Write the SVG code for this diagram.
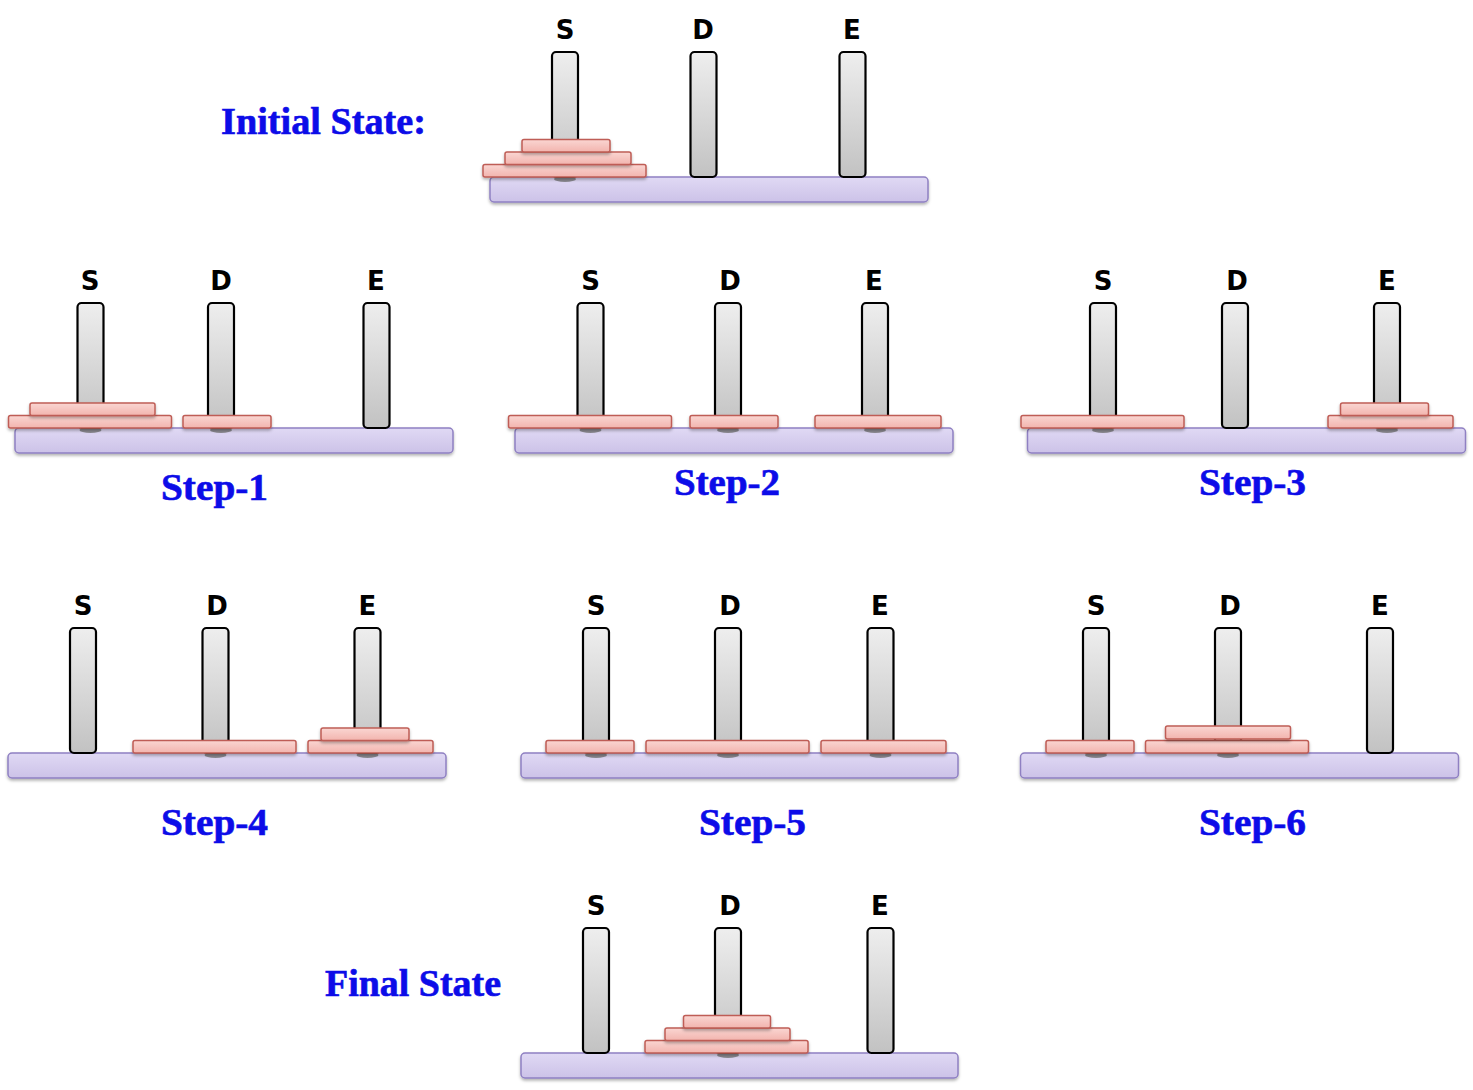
<svg xmlns="http://www.w3.org/2000/svg" width="1473" height="1090" viewBox="0 0 1473 1090">
<defs>
<linearGradient id="gPeg" x1="0" y1="0" x2="0" y2="1">
<stop offset="0" stop-color="#eeeeee"/>
<stop offset="1" stop-color="#c2c2c2"/>
</linearGradient>
<linearGradient id="gBase" x1="0" y1="0" x2="0" y2="1">
<stop offset="0" stop-color="#e0d9f4"/>
<stop offset="1" stop-color="#ccc2e8"/>
</linearGradient>
<linearGradient id="gDisk" x1="0" y1="0" x2="0" y2="1">
<stop offset="0" stop-color="#fad6d2"/>
<stop offset="1" stop-color="#f2b4ae"/>
</linearGradient>
<filter id="sh" x="-10%" y="-30%" width="120%" height="180%">
<feDropShadow dx="0" dy="2" stdDeviation="1.5" flood-color="#000" flood-opacity="0.3"/>
</filter>
</defs>
<style>
.base{fill:url(#gBase);stroke:#8f80c2;stroke-width:1.5;filter:url(#sh)}
.peg{fill:url(#gPeg);stroke:#000;stroke-width:2.2}
.disk{fill:url(#gDisk);stroke:#bf5d56;stroke-width:1.5;filter:url(#sh)}
.pin{fill:#6f6f6f;opacity:0.75}
.lbl{font-family:"DejaVu Sans","Liberation Sans",sans-serif;font-weight:bold;font-size:26px;fill:#000;text-anchor:middle}
.title{font-family:"Liberation Serif","DejaVu Serif",serif;font-weight:bold;font-size:37px;fill:#0c0ce8;stroke:#0c0ce8;stroke-width:0.6}
</style>
<rect width="1473" height="1090" fill="#ffffff"/>

<g id="initial-state">
<text class="title" x="221" y="134" textLength="205" lengthAdjust="spacingAndGlyphs">Initial State:</text>
<text class="lbl" x="565" y="39">S</text>
<text class="lbl" x="703" y="39">D</text>
<text class="lbl" x="852" y="39">E</text>
<rect class="base" x="490" y="177" width="438" height="25" rx="4"/>
<ellipse class="pin" cx="565" cy="179" rx="11" ry="3"/>
<rect class="peg" x="552" y="52" width="26" height="125" rx="4"/>
<rect class="peg" x="690.5" y="52" width="26" height="125" rx="4"/>
<rect class="peg" x="839.5" y="52" width="26" height="125" rx="4"/>
<rect class="disk" x="483" y="164.5" width="163" height="12.5" rx="2"/>
<rect class="disk" x="505" y="152" width="126" height="12.5" rx="2"/>
<rect class="disk" x="522" y="139.5" width="88" height="12.5" rx="2"/>
</g>

<g id="step-1">
<text class="lbl" x="90" y="290">S</text>
<text class="lbl" x="221" y="290">D</text>
<text class="lbl" x="376" y="290">E</text>
<rect class="base" x="15" y="428" width="438" height="25" rx="4"/>
<ellipse class="pin" cx="90.5" cy="430" rx="11" ry="3"/>
<ellipse class="pin" cx="221" cy="430" rx="11" ry="3"/>
<rect class="peg" x="77.5" y="303" width="26" height="125" rx="4"/>
<rect class="peg" x="208" y="303" width="26" height="125" rx="4"/>
<rect class="peg" x="363.5" y="303" width="26" height="125" rx="4"/>
<rect class="disk" x="8.5" y="415.5" width="163" height="12.5" rx="2"/>
<rect class="disk" x="30" y="403" width="125" height="12.5" rx="2"/>
<rect class="disk" x="183" y="415.5" width="88" height="12.5" rx="2"/>
<text class="title" x="161" y="500" textLength="107" lengthAdjust="spacingAndGlyphs">Step-1</text>
</g>

<g id="step-2">
<text class="lbl" x="590.5" y="290">S</text>
<text class="lbl" x="730" y="290">D</text>
<text class="lbl" x="874" y="290">E</text>
<rect class="base" x="515" y="428" width="438" height="25" rx="4"/>
<ellipse class="pin" cx="590.5" cy="430" rx="11" ry="3"/>
<ellipse class="pin" cx="728" cy="430" rx="11" ry="3"/>
<ellipse class="pin" cx="875" cy="430" rx="11" ry="3"/>
<rect class="peg" x="577.5" y="303" width="26" height="125" rx="4"/>
<rect class="peg" x="715" y="303" width="26" height="125" rx="4"/>
<rect class="peg" x="862" y="303" width="26" height="125" rx="4"/>
<rect class="disk" x="508.5" y="415.5" width="163" height="12.5" rx="2"/>
<rect class="disk" x="690" y="415.5" width="88" height="12.5" rx="2"/>
<rect class="disk" x="815" y="415.5" width="126" height="12.5" rx="2"/>
<text class="title" x="674" y="495" textLength="106" lengthAdjust="spacingAndGlyphs">Step-2</text>
</g>

<g id="step-3">
<text class="lbl" x="1103" y="290">S</text>
<text class="lbl" x="1237" y="290">D</text>
<text class="lbl" x="1387" y="290">E</text>
<rect class="base" x="1027.5" y="428" width="438" height="25" rx="4"/>
<ellipse class="pin" cx="1103" cy="430" rx="11" ry="3"/>
<ellipse class="pin" cx="1387" cy="430" rx="11" ry="3"/>
<rect class="peg" x="1090" y="303" width="26" height="125" rx="4"/>
<rect class="peg" x="1222" y="303" width="26" height="125" rx="4"/>
<rect class="peg" x="1374" y="303" width="26" height="125" rx="4"/>
<rect class="disk" x="1021" y="415.5" width="163" height="12.5" rx="2"/>
<rect class="disk" x="1328" y="415.5" width="125" height="12.5" rx="2"/>
<rect class="disk" x="1340.5" y="403" width="88" height="12.5" rx="2"/>
<text class="title" x="1199" y="495" textLength="107" lengthAdjust="spacingAndGlyphs">Step-3</text>
</g>

<g id="step-4">
<text class="lbl" x="83" y="615">S</text>
<text class="lbl" x="217" y="615">D</text>
<text class="lbl" x="367.5" y="615">E</text>
<rect class="base" x="8" y="753" width="438" height="25" rx="4"/>
<ellipse class="pin" cx="215.5" cy="755" rx="11" ry="3"/>
<ellipse class="pin" cx="367.5" cy="755" rx="11" ry="3"/>
<rect class="peg" x="70" y="628" width="26" height="125" rx="4"/>
<rect class="peg" x="202.5" y="628" width="26" height="125" rx="4"/>
<rect class="peg" x="354.5" y="628" width="26" height="125" rx="4"/>
<rect class="disk" x="133" y="740.5" width="163" height="12.5" rx="2"/>
<rect class="disk" x="308" y="740.5" width="125" height="12.5" rx="2"/>
<rect class="disk" x="321" y="728" width="88" height="12.5" rx="2"/>
<text class="title" x="161" y="835" textLength="107" lengthAdjust="spacingAndGlyphs">Step-4</text>
</g>

<g id="step-5">
<text class="lbl" x="596" y="615">S</text>
<text class="lbl" x="730" y="615">D</text>
<text class="lbl" x="880" y="615">E</text>
<rect class="base" x="521" y="753" width="437" height="25" rx="4"/>
<ellipse class="pin" cx="596" cy="755" rx="11" ry="3"/>
<ellipse class="pin" cx="728" cy="755" rx="11" ry="3"/>
<ellipse class="pin" cx="880.5" cy="755" rx="11" ry="3"/>
<rect class="peg" x="583" y="628" width="26" height="125" rx="4"/>
<rect class="peg" x="715" y="628" width="26" height="125" rx="4"/>
<rect class="peg" x="867.5" y="628" width="26" height="125" rx="4"/>
<rect class="disk" x="546" y="740.5" width="88" height="12.5" rx="2"/>
<rect class="disk" x="646" y="740.5" width="163" height="12.5" rx="2"/>
<rect class="disk" x="821" y="740.5" width="125" height="12.5" rx="2"/>
<text class="title" x="699" y="835" textLength="107" lengthAdjust="spacingAndGlyphs">Step-5</text>
</g>

<g id="step-6">
<text class="lbl" x="1096" y="615">S</text>
<text class="lbl" x="1230" y="615">D</text>
<text class="lbl" x="1380" y="615">E</text>
<rect class="base" x="1020.5" y="753" width="438" height="25" rx="4"/>
<ellipse class="pin" cx="1096" cy="755" rx="11" ry="3"/>
<ellipse class="pin" cx="1228" cy="755" rx="11" ry="3"/>
<rect class="peg" x="1083" y="628" width="26" height="125" rx="4"/>
<rect class="peg" x="1215" y="628" width="26" height="125" rx="4"/>
<rect class="peg" x="1367" y="628" width="26" height="125" rx="4"/>
<rect class="disk" x="1046" y="740.5" width="88" height="12.5" rx="2"/>
<rect class="disk" x="1145.5" y="740.5" width="163" height="12.5" rx="2"/>
<rect class="disk" x="1165.5" y="726" width="125" height="13" rx="2"/>
<text class="title" x="1199" y="835" textLength="107" lengthAdjust="spacingAndGlyphs">Step-6</text>
</g>

<g id="final-state">
<text class="title" x="325" y="996" textLength="176" lengthAdjust="spacingAndGlyphs">Final State</text>
<text class="lbl" x="596" y="915">S</text>
<text class="lbl" x="730" y="915">D</text>
<text class="lbl" x="880" y="915">E</text>
<rect class="base" x="521" y="1053" width="437" height="25" rx="4"/>
<ellipse class="pin" cx="728" cy="1055" rx="11" ry="3"/>
<rect class="peg" x="583" y="928" width="26" height="125" rx="4"/>
<rect class="peg" x="715" y="928" width="26" height="125" rx="4"/>
<rect class="peg" x="867.5" y="928" width="26" height="125" rx="4"/>
<rect class="disk" x="645" y="1040.5" width="163" height="12.5" rx="2"/>
<rect class="disk" x="665" y="1028" width="125" height="12.5" rx="2"/>
<rect class="disk" x="683.5" y="1015.5" width="87" height="12.5" rx="2"/>
</g>
</svg>
